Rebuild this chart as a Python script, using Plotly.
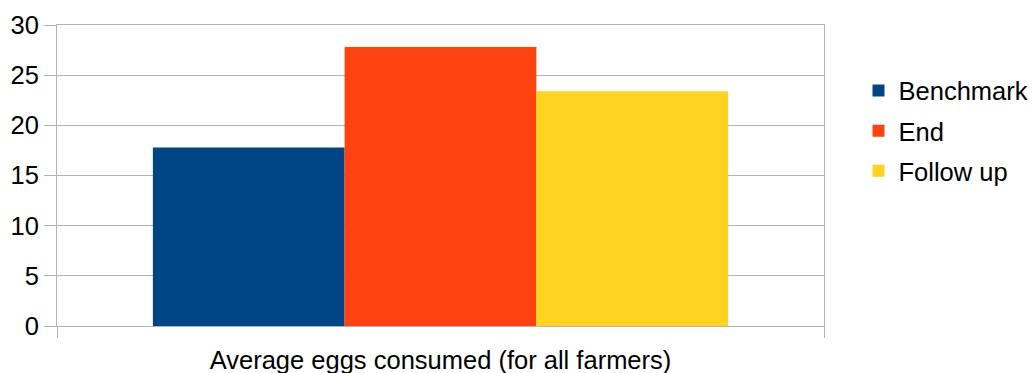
import plotly.graph_objects as go

category = ["Average eggs consumed (for all farmers)"]
series_names = ["Benchmark", "End", "Follow up"]
series_values = [[17.8], [27.8], [23.4]]
series_colors = ["#004586", "#FF420E", "#FFD320"]
y_ticks = [0, 5, 10, 15, 20, 25, 30]

FONT = "Liberation Sans, Arial, sans-serif"
FS = 25.5
GRID = "#b3b3b3"

fig = go.Figure()
for name, vals, col in zip(series_names, series_values, series_colors):
    fig.add_trace(go.Bar(
        x=category, y=vals, name=name, legendgroup=name,
        marker=dict(color=col, line=dict(width=0)),
    ))

fig.update_layout(
    width=1032, height=373,
    margin=dict(l=57, r=208, t=25, b=47, autoexpand=False),
    paper_bgcolor="white", plot_bgcolor="white",
    barmode="group", bargap=0.25, bargroupgap=0,
    font=dict(family=FONT, size=FS, color="black"),
    legend=dict(
        x=1.045, xanchor="left", y=0.648, yanchor="middle",
        font=dict(family=FONT, size=FS, color="black"),
        tracegroupgap=4, itemwidth=30,
        bgcolor="rgba(0,0,0,0)",
    ),
    showlegend=True,
)
fig.update_xaxes(
    type="category", showgrid=False,
    showline=True, linecolor=GRID, linewidth=1, mirror=True,
    ticks="outside", tickson="boundaries", ticklen=11, tickcolor=GRID,
    ticklabelstandoff=11,
    tickfont=dict(family=FONT, size=FS, color="black"),
)
fig.update_yaxes(
    range=[0, 30], tickvals=y_ticks, showgrid=True, gridcolor=GRID, gridwidth=1,
    showline=True, linecolor=GRID, linewidth=1, mirror=True,
    ticks="outside", ticklen=12, tickcolor=GRID, zeroline=False,
    tickfont=dict(family=FONT, size=FS, color="black"),
)

fig.write_html("out.html")
